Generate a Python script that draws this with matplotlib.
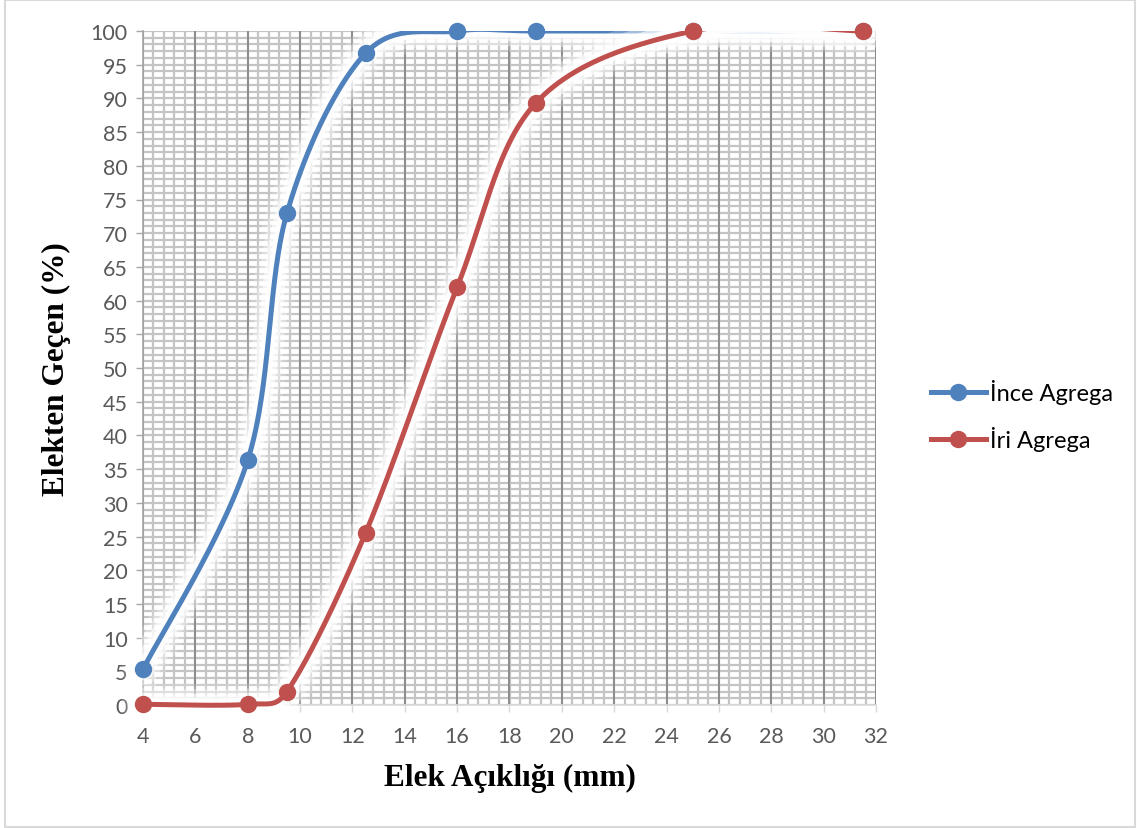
import numpy as np
import matplotlib
matplotlib.use("Agg")
import matplotlib.pyplot as plt
import matplotlib.patheffects as pe
from matplotlib.lines import Line2D
from matplotlib.patches import Rectangle

# ---- data ----
sieve_mm = [4, 8, 9.5, 12.5, 16, 19, 25, 31.5]
ince_agrega = [5.3, 36.3, 73.0, 96.7, 100, 100, 100, 100]
iri_agrega = [0.1, 0.1, 2.0, 25.5, 62.0, 89.3, 100, 100]
series_names = ["İnce Agrega", "İri Agrega"]
series_colors = ["#4F81BD", "#C0504D"]
x_ticks = list(range(4, 33, 2))
y_ticks = list(range(0, 101, 5))
x_label = "Elek Açıklığı (mm)"
y_label = "Elekten Geçen (%)"

W, H = 1140, 829
AX_L, AX_R, AX_T, AX_B = 143, 876, 32, 706
XMIN, XMAX, YMIN, YMAX = 4, 32, 0, 100
SX = (AX_R - AX_L) / (XMAX - XMIN)
SY = (AX_B - AX_T) / (YMAX - YMIN)


def smooth(x, y, n=80):
    """Excel-like smoothed line: Bezier segments, control arms 1/6 of the
    neighbour chord, capped at half the segment length (in screen space)."""
    pts = np.column_stack([x, y]).astype(float)
    scale = np.array([SX, SY])
    m = len(pts)
    xs, ys = [], []
    t = np.linspace(0, 1, n)[:, None]

    def dist(a, b):
        return np.hypot(*((b - a) * scale))

    for i in range(m - 1):
        p0 = pts[max(i - 1, 0)]
        p1 = pts[i]
        p2 = pts[i + 1]
        p3 = pts[min(i + 2, m - 1)]
        d12 = dist(p1, p2)
        d02 = dist(p0, p2)
        d13 = dist(p1, p3)
        f1 = 1 / 6 if d02 / 6 <= d12 / 2 else d12 / (2 * d02)
        f2 = 1 / 6 if d13 / 6 <= d12 / 2 else d12 / (2 * d13)
        c1 = p1 + f1 * (p2 - p0)
        c2 = p2 - f2 * (p3 - p1)
        b = ((1 - t) ** 3) * p1 + 3 * ((1 - t) ** 2) * t * c1 + 3 * (1 - t) * t ** 2 * c2 + t ** 3 * p2
        xs.append(b[:, 0])
        ys.append(b[:, 1])
    return np.concatenate(xs), np.concatenate(ys)


fig = plt.figure(figsize=(W / 100, H / 100), dpi=100)
fig.patch.set_facecolor("white")
fig.add_artist(Rectangle((5 / W, 1 / H), (1135 - 5) / W, (828 - 1) / H, transform=fig.transFigure,
                         fill=False, edgecolor="#D9D9D9", linewidth=1.5))

ax = fig.add_axes([AX_L / W, 1 - AX_B / H, (AX_R - AX_L) / W, (AX_B - AX_T) / H])
ax.set_xlim(XMIN, XMAX)
ax.set_ylim(YMIN, YMAX)

# grid
for xv in np.arange(4, 32.001, 0.4):
    ax.axvline(xv, color="#C4C4C4", lw=1.6, zorder=0.5)
for yv in np.arange(0, 100.001, 1):
    ax.axhline(yv, color="#C4C4C4", lw=1.6, zorder=0.5)
for xv in x_ticks:
    ax.axvline(xv, color="#8C8C8C", lw=1.4, zorder=0.6)

glow = [pe.Stroke(linewidth=30, foreground="white", alpha=0.2),
        pe.Stroke(linewidth=23, foreground="white", alpha=0.35),
        pe.Stroke(linewidth=16, foreground="white", alpha=0.6),
        pe.Stroke(linewidth=10, foreground="white", alpha=0.9),
        pe.Normal()]

clip_rect = Rectangle((XMIN - 1, YMIN - 5), XMAX - XMIN + 2, YMAX - YMIN + 5,
                      transform=ax.transData, fill=False)
ax.add_patch(clip_rect)
clip_rect.set_visible(False)

for yvals, name, col, z in [(ince_agrega, series_names[0], series_colors[0], 3),
                            (iri_agrega, series_names[1], series_colors[1], 4)]:
    sx, sy = smooth(sieve_mm, yvals)
    ln, = ax.plot(sx, sy, color=col, lw=3.6, zorder=z, solid_capstyle="round")
    ln.set_path_effects(glow)
    ln.set_clip_path(clip_rect)
    ax.plot(sieve_mm, yvals, linestyle="none", marker="o", markersize=11.5,
            color=col, zorder=z + 0.5, clip_on=False)

ax.set_xticks(x_ticks)
ax.set_yticks(y_ticks)
ax.set_xticklabels([str(v) for v in x_ticks])
ax.set_yticklabels([str(v) for v in y_ticks])
for lab in ax.get_xticklabels() + ax.get_yticklabels():
    lab.set_fontfamily("Lato")
    lab.set_fontsize(15.5)
    lab.set_color("#595959")
ax.tick_params(axis="y", direction="out", length=5, width=1, color="#A6A6A6", pad=6)
ax.tick_params(axis="x", direction="out", length=5, width=1, color="#D9D9D9", pad=10)

for s in ["top", "right"]:
    ax.spines[s].set_visible(False)
ax.spines["left"].set_color("#A6A6A6")
ax.spines["left"].set_linewidth(1.2)
ax.spines["bottom"].set_color("#D9D9D9")
ax.spines["bottom"].set_linewidth(1.2)

ax.set_xlabel(x_label, fontfamily="Liberation Serif", fontweight="bold", fontsize=22.5, labelpad=12)
ax.set_ylabel(y_label, fontfamily="Liberation Serif", fontweight="bold", fontsize=22.5, labelpad=14)

handles = [Line2D([0], [0], color=c, lw=3.6, marker="o", markersize=11.5) for c in series_colors]
leg = fig.legend(handles, series_names, loc="center left", bbox_to_anchor=(910 / W, 1 - 416 / H),
                 frameon=False, prop={"family": "Lato", "size": 17}, handlelength=2.3,
                 handletextpad=0.2, labelspacing=0.95)

fig.savefig("out.png", dpi=100)
